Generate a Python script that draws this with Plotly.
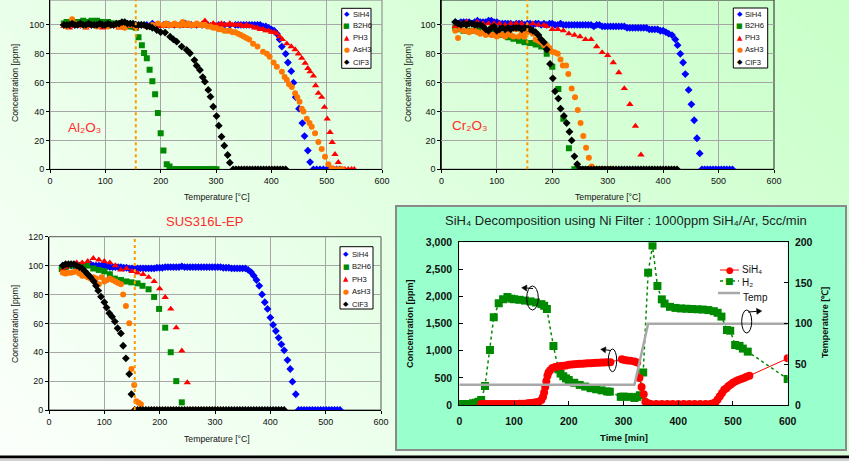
import base64, struct, zlib, math
import plotly.graph_objects as go

FONT = "Liberation Sans, Arial, sans-serif"
SYMFONT = "DejaVu Sans"
W, H = 849, 461

# ---------------- DATA ----------------
SERIES = ["SiH4", "B2H6", "PH3", "AsH3", "ClF3"]
TEMP_TICKS = [0, 100, 200, 300, 400, 500, 600]
CONC_TICKS = [0, 20, 40, 60, 80, 100, 120]
O_LINE_TEMP = 155  # dotted reference temperature

# Al2O3 (temperature degC, concentration ppm)
AL_SIH4 = [(25,100),(35,101),(45,100),(55,100),(65,101),(75,100),(85,100),(95,101),(105,100),(115,100),(125,100),(135,101),(145,100),(155,100),(165,100),(175,100),(185,101),(195,100),(205,100),(215,100),(225,100),(235,100),(245,101),(255,100),(265,100),(275,100),(285,100),(295,100),(305,100),(315,100),(325,100),(335,100),(340,100),(345,100),(350,100),(355,100),(360,100),(365,100),(370,100),(375,100),(380,100),(385,99),(390,99),(395,98),(400,97),(405,96),(410,94),(415,90),(419,85),(426,80),(430,74),(436,68),(440,60),(444,50),(450,42),(456,32),(460,23),(466,13),(470,5),(476,0),(482,0),(488,0),(494,0),(500,0),(506,0),(512,0),(518,0),(524,0)]
AL_B2H6 = [(25,101),(30,102),(35,101),(40,102),(45,102),(50,101),(55,102),(60,103),(65,102),(70,102),(75,103),(80,102),(85,103),(90,102),(95,102),(100,101),(105,102),(110,101),(115,101),(120,100),(125,101),(130,101),(135,100),(140,100),(145,99),(150,99),(155,98),(160,91.5),(166,86),(170,80.5),(175,77),(180,69),(185,61),(190,52),(195,39),(200,25),(205,13),(211,3.5),(216,2),(221,0),(226,0),(231,0),(236,0),(241,0),(246,0),(251,0),(256,0),(261,0),(266,0),(271,0),(276,0),(281,0),(286,0),(291,0),(296,0),(301,0)]
AL_PH3 = [(25,99),(35,98),(45,99),(55,99),(65,98),(75,99),(85,99),(95,98),(105,99),(115,99),(125,98),(135,99),(145,99),(155,98),(165,99),(175,99),(185,98),(195,99),(200,99),(205,100),(210,99),(215,100),(220,99),(225,100),(230,99),(235,100),(240,100),(245,99),(250,100),(255,100),(260,99),(265,100),(270,100),(275,101),(280,103),(285,100),(290,100),(295,101),(300,100),(305,100),(310,101),(315,100),(320,100),(325,101),(330,100),(335,100),(340,100),(345,100),(350,99),(355,100),(360,99),(365,99),(370,98),(375,98),(380,97),(385,97),(390,96),(395,96),(400,95),(405,95),(410,94),(415,92),(420,90),(428,87),(436,85),(443,83),(449,80),(455,77),(461,73.5),(466,70),(470,67.6),(476,64.7),(480,58),(485,52.7),(491,50),(496,43),(501,35),(506,25.6),(510,18.7),(515,10.4),(521,4.8),(527,0),(533,0),(539,0),(545,0),(550,0)]
AL_ASH3 = [(25,100),(30,99),(35,100),(40,104),(45,101),(55,100),(65,99),(75,100),(85,99),(95,100),(105,99),(115,100),(125,99),(135,98),(145,100),(155,99),(165,100),(175,99),(185,100),(195,101),(205,100),(210,101),(215,100),(220,100),(225,101),(230,100),(235,100),(240,102),(245,100),(250,101),(255,100),(260,100),(265,101),(270,100),(275,100),(280,100),(285,99),(290,99),(295,98),(300,98),(305,97),(310,97),(315,96),(320,96),(325,96),(330,95),(335,95),(340,94),(345,93),(350,92),(355,91),(360,90),(367,87),(375,85),(385,81.5),(392,80),(397,78),(404,74),(410,71),(419,67.6),(424,64),(428,62),(432,59),(437,57),(443,52.7),(447,50),(451,46.8),(455,42),(458,40),(464,35),(469,32),(473,29.5),(479,25),(485,19),(491,14),(497,8.7),(503,3.5),(509,0.7),(514,0),(519,0),(524,0),(528,0)]
AL_CLF3 = [(25,100),(30,100),(35,100),(40,101),(45,100),(50,100),(55,101),(60,100),(65,100),(70,101),(75,100),(80,100),(85,100),(90,101),(95,100),(100,100),(105,101),(110,100),(115,100),(120,101),(125,101),(130,102),(135,102),(140,101),(145,101),(150,101),(155,100),(160,100),(165,100),(170,100),(175,99),(180,99),(185,98),(193,96.5),(200,95),(208,94.7),(217,91.9),(223,90),(229,88.4),(238,85),(247,82.7),(253,80.4),(261,75.7),(265,71.8),(271,68.8),(276,63.8),(280,60.7),(286,55),(290,50.3),(295,43.4),(301,36.9),(305,30.2),(310,22.6),(315,16.4),(321,9.9),(325,4.6),(331,0),(336,0),(341,0),(346,0),(351,0),(356,0),(361,0),(366,0),(371,0),(376,0),(381,0),(386,0),(391,0),(396,0),(401,0),(406,0),(411,0),(416,0),(421,0),(426,0)]

# Cr2O3
CR_SIH4 = [(25,102),(30,101),(35,102),(40,102),(45,102),(50,102),(55,101),(60,102),(65,103),(70,102),(75,102),(80,102),(85,103),(90,103),(95,102),(100,102),(105,101),(110,101),(115,101),(120,101),(125,101),(130,100),(135,101),(140,101),(145,101),(150,100),(155,101),(160,101),(165,100),(170,101),(175,101),(180,100),(185,101),(190,100),(195,101),(200,101),(205,100),(210,100),(215,101),(220,100),(225,100),(230,100),(235,100),(240,100),(245,100),(250,100),(255,100),(260,100),(265,100),(270,100),(275,99),(280,100),(285,100),(290,99),(295,99),(300,99),(305,99),(310,99),(315,99),(320,99),(325,99),(330,99),(335,98),(340,98),(345,98),(350,98),(355,98),(360,98),(365,98),(370,98),(375,97),(380,97),(385,97),(390,97),(395,96),(400,96),(405,95),(410,94),(416,93),(422,90),(426,86),(431,80),(436,74),(440,66),(446,55),(451,45),(456,34),(461,21.5),(466,11),(470,0),(475,0),(480,0),(485,0),(490,0),(495,0),(500,0),(505,0),(510,0),(515,0),(520,0),(525,0)]
CR_B2H6 = [(25,98),(30,97),(40,96),(50,96),(60,96),(70,96),(80,95),(90,97),(100,95),(110,93),(120,91.5),(130,90.5),(140,89),(150,88),(160,87.5),(170,86.5),(180,85),(190,80),(200,71),(211,55.6),(220,35),(230,14.5),(240,0),(245,0),(250,0),(255,0),(260,0),(265,0),(270,0),(275,0),(280,0),(285,0),(290,0),(295,0),(300,0),(305,0)]
CR_PH3 = [(25,99),(35,101),(45,102),(55,101),(65,102),(75,101),(85,101),(95,101),(105,101),(115,100),(125,101),(135,101),(145,101),(155,100),(165,101),(175,100),(185,100),(190,99),(200,97),(210,97),(220,96),(230,94),(240,93),(250,92),(260,90),(270,90),(280,85),(290,81),(300,79),(310,74),(320,67),(330,56),(340,45),(350,30),(360,10),(365,0),(370,0),(375,0),(380,0),(385,0),(390,0),(395,0),(400,0),(405,0),(410,0),(415,0),(420,0),(425,0)]
CR_ASH3 = [(25,96),(30,91),(35,97),(40,96),(45,96),(50,95),(55,96),(60,96),(65,95),(70,94),(75,95),(80,93),(85,94),(90,93),(95,93),(100,92),(105,94),(110,93),(115,92),(120,94),(125,93),(130,92),(135,97),(140,92),(145,94),(150,92),(155,95),(160,97),(165,94),(170,90),(175,89),(180,88),(185,86),(190,86),(195,84),(200,81.5),(205,81),(210,80),(215,76),(219,72),(225,72),(229,66),(235,56),(241,50),(246,41),(251,32),(256,23),(261,15),(266,8),(271,2),(276,0),(281,0),(286,0),(291,0),(296,0),(301,0),(306,0)]
CR_CLF3 = [(25,102),(30,101),(35,100),(40,101),(45,100),(50,101),(55,101),(60,100),(65,100),(70,100),(75,99),(80,97),(85,96),(90,98),(95,99),(100,96),(105,97),(110,98),(115,97),(120,98),(125,97),(130,98),(135,98),(140,98),(145,97),(150,98),(155,98),(160,97),(165,96),(170,95),(175,93),(180,90),(185,88),(190,83),(196,73),(201,63),(205,54),(211,49),(215,42),(221,37),(226,32),(231,26),(235,20),(240,9),(245,3.5),(250,0),(255,0),(260,0),(265,0),(270,0),(275,0),(280,0),(285,0),(290,0),(295,0),(300,0),(305,0),(310,0),(315,0),(320,0),(325,0),(330,0),(335,0),(340,0),(345,0),(350,0),(355,0),(360,0),(365,0),(370,0),(375,0),(380,0),(385,0),(390,0),(395,0),(400,0),(405,0),(410,0),(415,0),(420,0),(425,0)]

# SUS316L-EP
SUS_SIH4 = [(25,100),(30,100),(35,100),(40,100),(45,100),(50,100),(55,100),(60,100),(65,100),(70,101),(75,101),(80,100),(85,100),(90,100),(95,100),(100,100),(105,99.5),(110,99),(115,99),(120,99),(125,99),(130,99),(135,98.5),(140,98.5),(145,98),(150,98),(155,98),(160,98),(165,98),(170,98),(175,98),(180,98),(185,98),(190,98),(195,98.5),(200,98.5),(205,98.5),(210,99),(215,99),(220,99),(225,99),(230,99),(235,99),(240,99.5),(245,99),(250,99),(255,99),(260,99),(265,99),(270,99),(275,99),(280,99),(285,99),(290,99),(295,99),(300,99),(305,99),(310,99),(315,98.5),(320,98.5),(325,98.5),(330,98),(335,98),(340,98),(345,98),(350,98),(355,98),(360,97),(365,95.5),(370,93),(375,90),(380,86),(385,80),(390,74.6),(395,70),(400,64),(405,59),(410,54.7),(415,50),(420,45.5),(425,41.3),(431,34.6),(436,28.4),(440,19.6),(446,10.9),(451,0),(456,0),(461,0),(466,0),(471,0),(476,0),(481,0),(486,0),(491,0),(496,0),(501,0),(506,0),(511,0),(516,0),(521,0),(526,0)]
SUS_B2H6 = [(23,97.6),(30,99),(40,100),(50,100),(60,100),(69,100),(80,98),(90,97),(100,96),(110,94),(119,91),(130,90),(140,89),(149,88.4),(160,87.7),(169,86),(180,83.6),(190,78.3),(199,70),(210,57),(220,40),(230,20),(240,5.3),(250,0),(255,0),(260,0),(265,0),(270,0),(275,0),(280,0),(285,0),(290,0),(295,0),(300,0)]
SUS_PH3 = [(25,97),(30,99),(40,101),(50,102),(60,102),(70,103),(80,105),(90,104),(100,103),(110,102),(120,100),(130,97),(140,98),(150,96),(160,95),(170,94),(180,92),(190,89),(200,84),(210,78),(220,70),(230,57),(240,41),(250,19),(255,0),(260,0),(265,0),(270,0),(275,0),(280,0),(285,0),(290,0),(295,0),(300,0),(305,0)]
SUS_ASH3 = [(25,95),(30,94.5),(35,95),(40,95),(45,95.5),(50,96),(55,94.5),(60,93),(65,93),(70,92),(75,91),(80,92),(85,91),(90,87),(95,92),(100,89),(105,90),(110,91),(115,90),(120,89),(125,88),(130,87),(134,80),(139,72),(145,60),(149,28.4),(154,17.3),(158,6),(162,5),(166,4),(155,0),(160,0),(165,0),(170,0),(175,0),(180,0),(185,0),(190,0),(195,0),(200,0),(205,0),(210,0),(215,0),(220,0),(225,0),(230,0),(235,0),(240,0),(245,0),(250,0),(255,0),(260,0),(265,0),(270,0),(275,0),(280,0),(285,0),(290,0),(295,0),(300,0)]
SUS_CLF3 = [(25,100),(30,101),(35,101),(40,101),(45,101),(50,100),(55,99),(60,98),(65,96),(70,94),(75,92),(81,89),(85,86),(89,82.6),(94,78.5),(100,74.6),(104,70.9),(109,67),(114,64.6),(119,61.2),(124,56.6),(130,53),(134,44.5),(139,35.8),(145,24.9),(149,10.9),(155,0),(160,0),(165,0),(170,0),(175,0),(180,0),(185,0),(190,0),(195,0),(200,0),(205,0),(210,0),(215,0),(220,0),(225,0),(230,0),(235,0),(240,0),(245,0),(250,0),(255,0),(260,0),(265,0),(270,0),(275,0),(280,0),(285,0),(290,0),(295,0),(300,0),(305,0),(310,0),(315,0),(320,0),(325,0),(330,0),(335,0),(340,0),(345,0),(350,0),(355,0),(360,0),(365,0),(370,0),(375,0),(380,0),(385,0),(390,0),(395,0),(400,0),(405,0),(410,0),(415,0),(420,0),(425,0)]

# SiH4 decomposition using Ni filter (time min, conc ppm / temp degC)
NI_H2 = [(0,20),(5,20),(10,20),(15,20),(20,20),(25,30),(30,40),(35,60),(40,90),(47,350),(56,1014),(63,1617),(72,1875),(80,1948),(88,1990),(95,1960),(100,1950),(110,1940),(120,1925),(130,1910),(140,1890),(150,1860),(155,1830),(160,1770),(172,1088),(181,658),(185,580),(190,530),(195,490),(200,460),(210,410),(220,370),(230,340),(240,310),(250,290),(260,270),(270,250),(275,245),(295,150),(300,155),(310,150),(320,130),(325,150),(330,180),(336,600),(345,2440),(353,2940),(362,2195),(370,1948),(375,1870),(385,1810),(395,1790),(405,1780),(415,1775),(425,1770),(435,1765),(445,1760),(455,1750),(465,1730),(472,1700),(479,1630),(489,1383),(495,1370),(504,1106),(512,1090),(518,1040),(527,984),(600,479)]
NI_SIH4 = [(40,20),(45,20),(50,20),(55,20),(60,20),(65,20),(70,20),(75,20),(80,20),(85,20),(90,20),(95,20),(100,20),(105,20),(110,25),(115,25),(120,25),(125,30),(130,35),(135,40),(140,50),(145,60),(150,90),(153,150),(155,230),(157,330),(159,440),(161,540),(163,600),(166,640),(170,680),(175,700),(180,710),(185,720),(190,725),(195,730),(200,740),(205,745),(210,750),(215,755),(220,760),(225,762),(230,765),(235,770),(240,772),(245,775),(250,778),(255,780),(260,782),(265,785),(270,788),(276,790),(297,845),(302,830),(307,820),(313,815),(320,800),(325,785),(329,500),(333,330),(337,200),(340,60),(345,30),(350,20),(360,20),(370,20),(380,20),(390,20),(400,20),(410,20),(420,20),(430,20),(440,20),(450,20),(460,25),(465,30),(468,50),(472,100),(476,160),(480,220),(484,280),(488,310),(492,350),(496,380),(500,410),(505,440),(510,460),(515,480),(520,500),(525,520),(530,540),(600,860)]
NI_TEMP = [(0,25),(320,25),(345,100),(600,100)]
NI_TIME_TICKS = [0, 100, 200, 300, 400, 500, 600]
NI_CONC_TICKS = [0, 500, 1000, 1500, 2000, 2500, 3000]
NI_TEMP_TICKS = [0, 50, 100, 150, 200]

# ---------------- STYLE ----------------
COLORS = {"SiH4": "#0000FF", "B2H6": "#008A00", "PH3": "#FF0000", "AsH3": "#FF7700", "ClF3": "#000000"}
SYMBOLS = {"SiH4": "diamond", "B2H6": "square", "PH3": "triangle-up", "AsH3": "circle", "ClF3": "diamond"}
SIZES = {"SiH4": 6, "B2H6": 6, "PH3": 6.5, "AsH3": 6, "ClF3": 6}
GLYPHS = {"SiH4": "◆", "B2H6": "■", "PH3": "▲", "AsH3": "●", "ClF3": "◆"}


def PX(x):
    return x / W


def PY(y):
    return 1 - y / H


def _chunk(t, d):
    return struct.pack(">I", len(d)) + t + d + struct.pack(">I", zlib.crc32(t + d) & 0xffffffff)


def gradient_png(w=120, h=66):
    raw = b""
    for j in range(h):
        row = bytearray([0])
        for i in range(w):
            t = 0.65 * i / (w - 1) + 0.35 * (1 - j / (h - 1))
            v = int(round(252 - 52 * t))
            row += bytes([v, 255, v])
        raw += bytes(row)
    png = b"\x89PNG\r\n\x1a\n" + _chunk(b"IHDR", struct.pack(">IIBBBBB", w, h, 8, 2, 0, 0, 0)) \
        + _chunk(b"IDAT", zlib.compress(raw)) + _chunk(b"IEND", b"")
    return "data:image/png;base64," + base64.b64encode(png).decode()


fig = go.Figure()

panels = [
    ("x", "y", [AL_SIH4, AL_B2H6, AL_PH3, AL_ASH3, AL_CLF3]),
    ("x2", "y2", [CR_SIH4, CR_B2H6, CR_PH3, CR_ASH3, CR_CLF3]),
    ("x3", "y3", [SUS_SIH4, SUS_B2H6, SUS_PH3, SUS_ASH3, SUS_CLF3]),
]
for xa, ya, data in panels:
    for name, pairs in zip(SERIES, data):
        fig.add_trace(go.Scatter(
            x=[p[0] for p in pairs], y=[p[1] for p in pairs], xaxis=xa, yaxis=ya,
            mode="markers", name=name, showlegend=False, hoverinfo="skip",
            marker=dict(color=COLORS[name], symbol=SYMBOLS[name], size=SIZES[name], line=dict(width=0))))

fig.add_trace(go.Scatter(x=[p[0] for p in NI_TEMP], y=[p[1] for p in NI_TEMP], xaxis="x4", yaxis="y5",
                         mode="lines", line=dict(color="#A8A8A8", width=2.5), showlegend=False, hoverinfo="skip"))
fig.add_trace(go.Scatter(x=[p[0] for p in NI_H2], y=[p[1] for p in NI_H2], xaxis="x4", yaxis="y4",
                         mode="lines+markers", line=dict(color="#008A00", width=1.5, dash="dot"),
                         marker=dict(symbol="square", size=8, color="#008A00"), showlegend=False, hoverinfo="skip"))
fig.add_trace(go.Scatter(x=[p[0] for p in NI_SIH4], y=[p[1] for p in NI_SIH4], xaxis="x4", yaxis="y4",
                         mode="lines+markers", line=dict(color="#FF0000", width=1),
                         marker=dict(symbol="circle", size=8, color="#FF0000"), showlegend=False, hoverinfo="skip"))

tickfont = dict(family=FONT, size=9, color="#111111")
common = dict(showline=True, linecolor="black", linewidth=1, ticks="outside", ticklen=3, tickcolor="black",
              showgrid=True, gridcolor="#A6A6A6", gridwidth=1, zeroline=False, tickfont=tickfont, automargin=False)
bold_tf = dict(family=FONT, size=10.5, color="#111111", weight="bold")
ni_common = dict(showline=True, linecolor="black", linewidth=1.2, ticks="inside", ticklen=4, tickcolor="black",
                 showgrid=False, zeroline=False, tickfont=bold_tf, automargin=False)

fig.update_layout(
    width=W, height=H, margin=dict(l=0, r=0, t=0, b=0, autoexpand=False),
    paper_bgcolor="white", plot_bgcolor="rgba(0,0,0,0)", showlegend=False,
    xaxis=dict(common, domain=[PX(50), PX(382)], range=[0, 600], tickvals=TEMP_TICKS, anchor="y"),
    yaxis=dict(common, domain=[PY(169.3), 1], range=[0, 117.3], tickvals=CONC_TICKS, anchor="x"),
    xaxis2=dict(common, domain=[PX(441.4), PX(774)], range=[0, 600], tickvals=TEMP_TICKS, anchor="y2"),
    yaxis2=dict(common, domain=[PY(169.3), 1], range=[0, 117.3], tickvals=CONC_TICKS, anchor="x2"),
    xaxis3=dict(common, domain=[PX(49), PX(381)], range=[0, 600], tickvals=TEMP_TICKS, anchor="y3"),
    yaxis3=dict(common, domain=[PY(410), PY(236.7)], range=[0, 120], tickvals=CONC_TICKS, anchor="x3"),
    xaxis4=dict(ni_common, domain=[PX(459.3), PX(787.7)], range=[0, 600], tickvals=NI_TIME_TICKS,
                anchor="y4", mirror=True, ticklabelstandoff=6),
    yaxis4=dict(ni_common, domain=[PY(405), PY(242.3)], range=[0, 3000], tickvals=NI_CONC_TICKS,
                tickformat=",", anchor="x4", ticklabelstandoff=4),
    yaxis5=dict(ni_common, range=[0, 200], tickvals=NI_TEMP_TICKS, overlaying="y4", side="right",
                anchor="x4", ticklabelstandoff=4),
)

fig.add_layout_image(dict(source=gradient_png(), xref="paper", yref="paper", x=0, y=1, sizex=1, sizey=1,
                          sizing="stretch", xanchor="left", yanchor="top", layer="below"))

shapes = []
shapes.append(dict(type="rect", xref="paper", yref="paper", x0=PX(396), x1=PX(846), y0=PY(450), y1=PY(206),
                   fillcolor="#99FFCC", line=dict(color="#8A8A8A", width=2), layer="below"))
shapes.append(dict(type="rect", xref="x4 domain", yref="y4 domain", x0=0, x1=1, y0=0, y1=1,
                   fillcolor="white", line=dict(width=0), layer="below"))
for xr, yr, col in [("x", "y", "#808080"), ("x2", "y2", "#222222"), ("x3", "y3", "#555555")]:
    shapes.append(dict(type="rect", xref=xr + " domain", yref=yr + " domain", x0=0, x1=1, y0=0, y1=1,
                       line=dict(color=col, width=1), layer="below"))
    shapes.append(dict(type="line", xref=xr, yref=yr + " domain", x0=O_LINE_TEMP, x1=O_LINE_TEMP, y0=0, y1=1,
                       line=dict(color="#FF9900", width=2, dash="dot")))
shapes.append(dict(type="rect", xref="paper", yref="paper", x0=0, x1=1, y0=PY(458.5), y1=PY(455.5),
                   fillcolor="black", line=dict(width=0)))
shapes.append(dict(type="rect", xref="paper", yref="paper", x0=0, x1=1, y0=0, y1=PY(458.5),
                   fillcolor="#D0D0D0", line=dict(width=0)))

anns = []


def ann(x, y, text, size=9, color="#111111", xanchor="center", yanchor="middle", angle=0, family=FONT, weight="normal"):
    anns.append(dict(x=PX(x), y=PY(y), xref="paper", yref="paper", text=text, showarrow=False,
                     font=dict(size=size, color=color, family=family, weight=weight),
                     xanchor=xanchor, yanchor=yanchor, textangle=angle))


for (bx0, by0, bx1, by1, mx, tx, rows) in [
    (341.7, 8.3, 371, 68.3, 346.8, 350.6, [14, 25.5, 37.7, 50, 62.3]),
    (733.3, 8.0, 767.7, 68.0, 739.5, 743.3, [14, 25.5, 37.7, 50, 62.3]),
    (340.0, 246.7, 373, 309, 346.2, 350.0, [254.3, 266.7, 279, 291.7, 304]),
]:
    shapes.append(dict(type="rect", xref="paper", yref="paper", x0=PX(bx0), x1=PX(bx1), y0=PY(by1), y1=PY(by0),
                       fillcolor="white", line=dict(color="black", width=1)))
    for name, ry in zip(SERIES, rows):
        ann(mx, ry, GLYPHS[name], size=7, color=COLORS[name], family=SYMFONT)
        ann(tx, ry, name, size=7.6, xanchor="left")

ann(66, 127, "Al₂O₃", size=13.5, color="#FF2A2A", xanchor="left")
ann(450, 125, "Cr₂O₃", size=13.5, color="#FF2A2A", xanchor="left")
ann(204, 221.7, "SUS316L-EP", size=13, color="#FF2A2A")
for cx, cy in [(217, 196.5), (608, 196.5), (216.7, 439)]:
    ann(cx, cy, "Temperature [°C]", size=8.7)
for cx, cy in [(15, 83), (408, 83), (15, 324)]:
    ann(cx, cy, "Concentration [ppm]", size=8.7, angle=-90)

ann(625.5, 220.7, "SiH₄ Decomposition using Ni Filter : 1000ppm SiH₄/Ar, 5cc/min", size=13, color="#222222")
ann(410, 324, "Concentration [ppm]", size=9, angle=-90, weight="bold")
ann(825, 323, "Temperature [℃]", size=9, angle=-90, weight="bold")
ann(623.7, 437.7, "Time [min]", size=9.5, weight="bold")

shapes.append(dict(type="line", xref="paper", yref="paper", x0=PX(720), x1=PX(739), y0=PY(270), y1=PY(270),
                   line=dict(color="#FF0000", width=1)))
shapes.append(dict(type="line", xref="paper", yref="paper", x0=PX(720), x1=PX(739), y0=PY(281), y1=PY(281),
                   line=dict(color="#008A00", width=1.5, dash="dot")))
shapes.append(dict(type="line", xref="paper", yref="paper", x0=PX(718), x1=PX(740), y0=PY(293), y1=PY(293),
                   line=dict(color="#A8A8A8", width=2.5)))
ann(729.5, 270, "●", size=9, color="#FF0000", family=SYMFONT)
ann(729.5, 281, "■", size=9, color="#008A00", family=SYMFONT)
ann(740, 269, "SiH₄", size=10, xanchor="left")
ann(740, 282, "H₂", size=10, xanchor="left")
ann(741, 297, "Temp", size=10, xanchor="left")

for (ex0, ey0, ex1, ey1, tipx, tipy, tailx, taily) in [
    (526.7, 286, 538.3, 310, 521.7, 287.7, 533, 288.5),
    (608.3, 349, 616.7, 371.7, 600.7, 349.3, 611, 350.5),
    (741.7, 310, 751.7, 333, 761.7, 311, 748, 312),
]:
    shapes.append(dict(type="circle", xref="paper", yref="paper", x0=PX(ex0), x1=PX(ex1), y0=PY(ey1), y1=PY(ey0),
                       line=dict(color="black", width=1)))
    dx, dy = tipx - tailx, tipy - taily
    L = math.hypot(dx, dy)
    ux, uy = dx / L, dy / L
    bx, by = tipx - ux * 5, tipy - uy * 5
    nx, ny = -uy * 3, ux * 3
    shapes.append(dict(type="line", xref="paper", yref="paper", x0=PX(tailx), y0=PY(taily), x1=PX(bx), y1=PY(by),
                       line=dict(color="black", width=1)))
    path = "M {} {} L {} {} L {} {} Z".format(PX(tipx), PY(tipy), PX(bx + nx), PY(by + ny), PX(bx - nx), PY(by - ny))
    shapes.append(dict(type="path", xref="paper", yref="paper", path=path, fillcolor="black",
                       line=dict(color="black", width=0.5)))

fig.update_layout(shapes=shapes, annotations=anns)
fig.write_html("out.html", config={"displayModeBar": False},
               post_script="document.body.style.margin='0px';document.body.style.overflow='hidden';")
